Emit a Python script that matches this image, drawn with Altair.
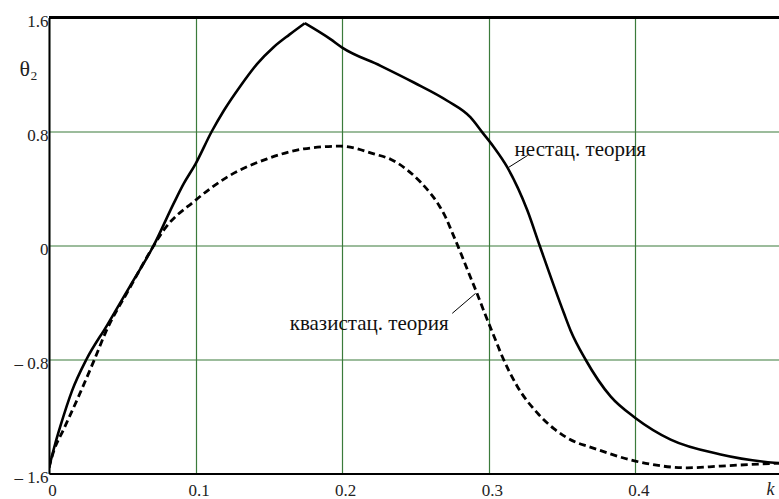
import altair as alt
import pandas as pd

# --- data ---
k_solid = [0, 0.004, 0.0077, 0.0157, 0.0255, 0.0396, 0.055, 0.0714, 0.085, 0.0919,
           0.1, 0.111, 0.1192, 0.1306, 0.142, 0.153, 0.164, 0.1745,
           0.1745, 0.192, 0.2, 0.2262, 0.2489,
           0.2717, 0.2876, 0.2956, 0.3035, 0.3126, 0.3263, 0.3347, 0.3513, 0.3558,
           0.366, 0.3831, 0.4, 0.4241, 0.4582, 0.4946, 0.5]
th_solid = [-1.56, -1.40, -1.27, -1.02, -0.8, -0.56, -0.29, 0.0, 0.294, 0.434,
            0.573, 0.8, 0.946, 1.12, 1.275, 1.39, 1.48, 1.56,
            1.56, 1.448, 1.389, 1.261, 1.144,
            1.016, 0.899, 0.794, 0.69, 0.55, 0.247, 0.0, -0.476, -0.596,
            -0.8, -1.059, -1.21, -1.362, -1.466, -1.525, -1.53]
seg_solid = ["rise"] * 18 + ["fall"] * 21

k_dash = [0, 0.003, 0.01, 0.0202, 0.031, 0.0384, 0.055, 0.0737, 0.0782, 0.0999,
          0.1215, 0.1488, 0.1738, 0.1988, 0.2216, 0.233, 0.2386, 0.2534, 0.2603,
          0.2659, 0.2705, 0.2751, 0.2796, 0.2843, 0.2876, 0.291, 0.2944, 0.2978,
          0.3035, 0.3092, 0.3195, 0.3331, 0.3444, 0.3604,
          0.3672, 0.4, 0.4355, 0.4582, 0.4946, 0.5]
th_dash = [-1.56, -1.45, -1.29, -1.059, -0.8, -0.615, -0.3, 0.037, 0.107, 0.317,
           0.48, 0.608, 0.678, 0.697, 0.643, 0.605, 0.573, 0.445, 0.365,
           0.285, 0.2, 0.09, -0.02, -0.14, -0.225, -0.31, -0.4, -0.49,
           -0.635, -0.779, -0.989, -1.175, -1.285, -1.385,
           -1.408, -1.513, -1.56, -1.548, -1.529, -1.527]

x_ticks = [0, 0.1, 0.2, 0.3, 0.4]
y_ticks = [-1.6, -0.8, 0, 0.8, 1.6]

label_text = ["нестац. теория", "квазистац. теория"]
label_k = [0.3176, 0.1642]
label_th = [0.631, -0.592]

leader_k = [0.3135, 0.3265, 0.2751, 0.2910]
leader_th = [0.548, 0.632, -0.476, -0.336]
leader_grp = ["a", "a", "b", "b"]

df_s = pd.DataFrame({"k": k_solid, "th": th_solid, "seg": seg_solid})
df_d = pd.DataFrame({"k": k_dash, "th": th_dash})
df_lab = pd.DataFrame({"k": label_k, "th": label_th, "t": label_text})
df_lead = pd.DataFrame({"k": leader_k, "th": leader_th, "g": leader_grp})

SERIF = "Liberation Serif"
GRID = "#3b7b3b"

xscale = alt.Scale(domain=[0, 0.498], nice=False, zero=False)
yscale = alt.Scale(domain=[-1.6, 1.6], nice=False, zero=False)

xaxis = alt.Axis(values=x_ticks, grid=True, gridColor=GRID, gridWidth=1.2, gridOpacity=1,
                 labelPadding=9, labelOffset=3,
                 labelExpr="datum.value == 0 ? '0' : format(datum.value, '.1f')",
                 title="k", titleFontStyle="italic",
                 titleFontSize=18, titleX=721, titleY=16, titleAlign="center",
                 titleBaseline="middle")
yaxis = alt.Axis(values=y_ticks, grid=True, gridColor=GRID, gridWidth=1.2, gridOpacity=1,
                 labelPadding=1, labelOffset=4, labelBaseline="middle",
                 labelExpr="datum.value < 0 ? '\u2013 ' + format(abs(datum.value), '.1f') : (datum.value == 0 ? '0' : format(datum.value, '.1f'))",
                 title="θ₂", titleFontSize=22,
                 titleAngle=0, titleX=-21, titleY=51, titleAlign="center",
                 titleBaseline="middle")

solid = alt.Chart(df_s).mark_line(color="black", strokeWidth=2.6, clip=True,
                                  interpolate="monotone").encode(
    x=alt.X("k:Q", scale=xscale, axis=xaxis),
    y=alt.Y("th:Q", scale=yscale, axis=yaxis),
    detail="seg:N",
    order="k:Q",
)
dashed = alt.Chart(df_d).mark_line(color="black", strokeWidth=2.8, strokeDash=[7, 4], clip=True,
                                   interpolate="monotone").encode(
    x=alt.X("k:Q", scale=xscale, axis=xaxis),
    y=alt.Y("th:Q", scale=yscale, axis=yaxis),
    order="k:Q",
)
top_border = alt.Chart(df_d).mark_rule(color="black", strokeWidth=2).encode(
    y=alt.datum(1.6, scale=yscale, axis=yaxis),
)
leaders = alt.Chart(df_lead).mark_line(color="black", strokeWidth=1).encode(
    x=alt.X("k:Q", scale=xscale, axis=xaxis),
    y=alt.Y("th:Q", scale=yscale, axis=yaxis),
    detail="g:N",
)
labels = alt.Chart(df_lab).mark_text(font=SERIF, fontSize=21, align="left",
                                      baseline="alphabetic", color="#111").encode(
    x=alt.X("k:Q", scale=xscale, axis=xaxis),
    y=alt.Y("th:Q", scale=yscale, axis=yaxis),
    text="t:N",
)

chart = alt.layer(solid, dashed, leaders, labels, top_border).properties(
    width=730, height=456,
    autosize=alt.AutoSizeParams(type="none"),
    padding={"left": 49, "top": 17.5, "right": 0, "bottom": 25.5},
    background="white",
).configure(font=SERIF).configure_view(stroke=None).configure_axis(
    grid=True, gridColor=GRID, gridOpacity=1, gridWidth=1.2,
    ticks=False, domainColor="black", domainWidth=2,
    labelFont=SERIF, labelFontSize=17, labelColor="#222", labelFlush=False,
    titleFont=SERIF, titleFontWeight="normal", titleColor="#222",
)

chart.save("out.html", embed_options={"renderer": "svg", "actions": False})
